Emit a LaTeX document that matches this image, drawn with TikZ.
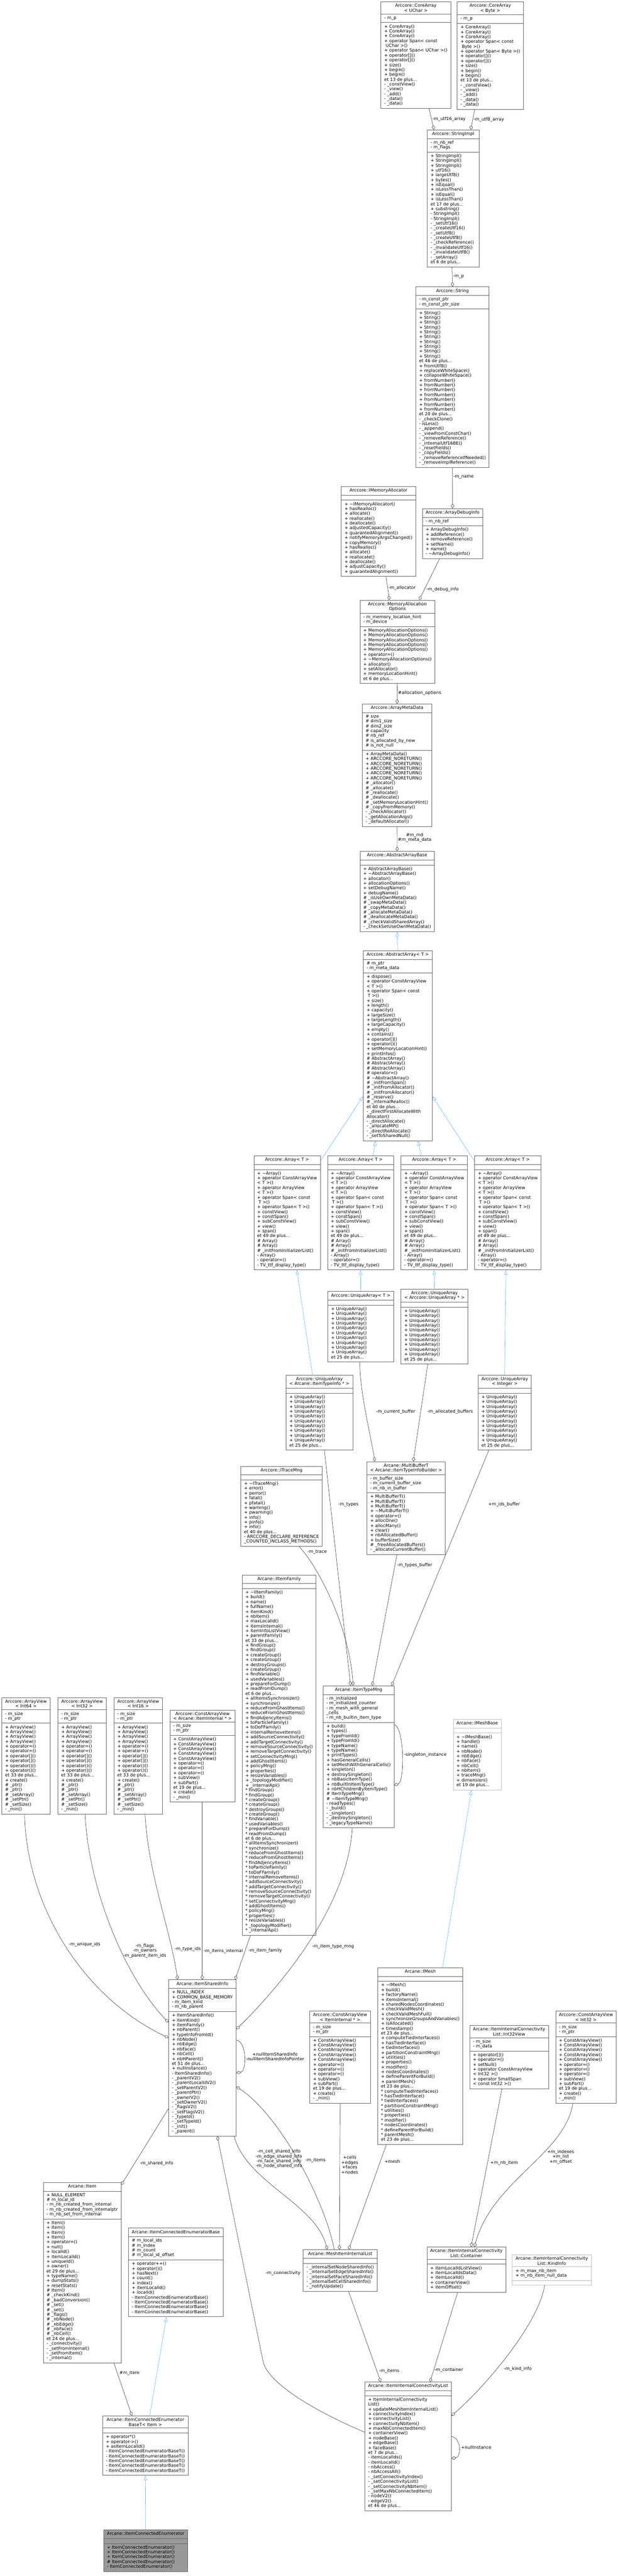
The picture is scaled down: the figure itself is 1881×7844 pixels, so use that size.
\documentclass[tikz,border=0pt]{standalone}
\usepackage{fontspec}
\setmainfont{DejaVu Sans}
\usetikzlibrary{shapes.multipart,arrows.meta,calc,positioning}

\definecolor{boxgray}{HTML}{666666}
\definecolor{lightgray}{HTML}{BFBFBF}
\definecolor{edgegray}{HTML}{404040}
\definecolor{inhblue}{HTML}{63B8FF}
\definecolor{curgray}{HTML}{999999}

\newcommand{\umlfont}{\fontsize{6.65}{7.35}\selectfont}
\newcommand{\tld}{\textasciitilde}
\newcommand{\mlist}[1]{\begin{tabular}{@{}l@{}}#1\end{tabular}}
\newcommand{\umlclass}[8][]{\node[umlbox, minimum width=#5*0.5pt, #1] (#2) at (#3,#4) {\strut#6\nodepart{two}\mlist{#7}\nodepart{three}\mlist{#8}};}
\newcommand{\arrmeth}{+ \tld{}Array()\\+ operator ConstArrayView\\< T >()\\+ operator ArrayView\\< T >()\\+ operator Span< const\\\ T >()\\+ operator Span< T >()\\+ constView()\\+ constSpan()\\+ subConstView()\\+ view()\\+ span()\\et 49 de plus...\\\# Array()\\\# Array()\\\# \_initFromInitializerList()\\- Array()\\- operator=()\\- TV\_ttf\_display\_type()}
\newcommand{\uameth}{+ UniqueArray()\\+ UniqueArray()\\+ UniqueArray()\\+ UniqueArray()\\+ UniqueArray()\\+ UniqueArray()\\+ UniqueArray()\\+ UniqueArray()\\+ UniqueArray()\\+ UniqueArray()\\et 25 de plus...}
\newcommand{\avmeth}{+ ArrayView()\\+ ArrayView()\\+ ArrayView()\\+ ArrayView()\\+ operator=()\\+ operator=()\\+ operator[]()\\+ operator[]()\\+ operator()()\\+ operator()()\\et 33 de plus...\\+ create()\\\# \_ptr()\\\# \_ptr()\\\# \_setArray()\\\# \_setPtr()\\\# \_setSize()\\- \_min()}
\newcommand{\cavmeth}{+ ConstArrayView()\\+ ConstArrayView()\\+ ConstArrayView()\\+ ConstArrayView()\\+ ConstArrayView()\\+ operator=()\\+ operator=()\\+ operator=()\\+ subView()\\+ subPart()\\et 19 de plus...\\+ create()\\- \_min()}

\begin{document}
\begin{tikzpicture}[x=0.5pt, y=-0.5pt,
	umlbox/.style={rectangle split, rectangle split parts=3, rectangle split part align={center,left,left},
		draw=boxgray, line width=0.6pt, fill=white, anchor=north west, align=center,
		inner xsep=5pt, inner ysep=2.6pt, font=\umlfont},
	light/.style={draw=lightgray},
	current/.style={fill=curgray},
	agg/.style={draw=edgegray, line width=0.5pt, -{Diamond[open, length=7pt, width=5pt]}},
	inh/.style={draw=inhblue, line width=0.5pt, -{Triangle[open, length=7pt, width=5pt]}},
	lbl/.style={font=\umlfont, inner sep=1pt, align=center}]
	\useasboundingbox (0,0) rectangle (1881,7844);
	\fill[white] (0,0) rectangle (1881,7844);

	\umlclass{caUChar}{1160}{5}{208}{Arccore::CoreArray\\< UChar >}{- m\_p}{+ CoreArray()\\+ CoreArray()\\+ CoreArray()\\+ operator Span< const\\\ UChar >()\\+ operator Span< UChar >()\\+ operator[]()\\+ operator[]()\\+ size()\\+ begin()\\+ begin()\\et 13 de plus...\\- \_constView()\\- \_view()\\- \_add()\\- \_data()\\- \_data()}
	\umlclass{caByte}{1392}{5}{196}{Arccore::CoreArray\\< Byte >}{- m\_p}{+ CoreArray()\\+ CoreArray()\\+ CoreArray()\\+ operator Span< const\\\ Byte >()\\+ operator Span< Byte >()\\+ operator[]()\\+ operator[]()\\+ size()\\+ begin()\\+ begin()\\et 13 de plus...\\- \_constView()\\- \_view()\\- \_add()\\- \_data()\\- \_data()}
	\umlclass{strImpl}{1301}{395}{158}{Arccore::StringImpl}{- m\_nb\_ref\\- m\_flags}{+ StringImpl()\\+ StringImpl()\\+ StringImpl()\\+ utf16()\\+ largeUtf8()\\+ bytes()\\+ isEqual()\\+ isLessThan()\\+ isEqual()\\+ isLessThan()\\et 17 de plus...\\+ substring()\\- StringImpl()\\- StringImpl()\\- \_setUtf16()\\- \_createUtf16()\\- \_setUtf8()\\- \_createUtf8()\\- \_checkReference()\\- \_invalidateUtf16()\\- \_invalidateUtf8()\\- \_setArray()\\et 6 de plus...}
	\umlclass{string}{1266}{873}{222}{Arccore::String}{- m\_const\_ptr\\- m\_const\_ptr\_size}{+ String()\\+ String()\\+ String()\\+ String()\\+ String()\\+ String()\\+ String()\\+ String()\\+ String()\\+ String()\\et 46 de plus...\\+ fromUtf8()\\+ replaceWhiteSpace()\\+ collapseWhiteSpace()\\+ fromNumber()\\+ fromNumber()\\+ fromNumber()\\+ fromNumber()\\+ fromNumber()\\+ fromNumber()\\+ fromNumber()\\et 20 de plus...\\- \_checkClone()\\- isLess()\\- \_append()\\- \_viewFromConstChar()\\- \_removeReference()\\- \_internalUtf16BE()\\- \_resetFields()\\- \_copyFields()\\- \_removeReferenceIfNeeded()\\- \_removeImplReference()}
	\umlclass{imem}{1039}{1481}{224}{Arccore::IMemoryAllocator}{}{+ \tld{}IMemoryAllocator()\\+ hasRealloc()\\+ allocate()\\+ reallocate()\\+ deallocate()\\+ adjustedCapacity()\\+ guarantedAlignment()\\+ notifyMemoryArgsChanged()\\+ copyMemory()\\+ hasRealloc()\\+ allocate()\\+ reallocate()\\+ deallocate()\\+ adjustCapacity()\\+ guarantedAlignment()}
	\umlclass{adi}{1286}{1548}{182}{Arccore::ArrayDebugInfo}{- m\_nb\_ref}{+ ArrayDebugInfo()\\+ addReference()\\+ removeReference()\\+ setName()\\+ name()\\- \tld{}ArrayDebugInfo()}
	\umlclass{mao}{1096}{1827}{227}{Arccore::MemoryAllocation\\Options}{- m\_memory\_location\_hint\\- m\_device}{+ MemoryAllocationOptions()\\+ MemoryAllocationOptions()\\+ MemoryAllocationOptions()\\+ MemoryAllocationOptions()\\+ MemoryAllocationOptions()\\+ operator=()\\+ \tld{}MemoryAllocationOptions()\\+ allocator()\\+ setAllocator()\\+ memoryLocationHint()\\et 6 de plus...}
	\umlclass{amd}{1103}{2143}{212}{Arccore::ArrayMetaData}{\# size\\\# dim1\_size\\\# dim2\_size\\\# capacity\\\# nb\_ref\\\# is\_allocated\_by\_new\\\# is\_not\_null}{+ ArrayMetaData()\\+ ARCCORE\_NORETURN()\\+ ARCCORE\_NORETURN()\\+ ARCCORE\_NORETURN()\\+ ARCCORE\_NORETURN()\\+ ARCCORE\_NORETURN()\\\# \_allocator()\\\# \_allocate()\\\# \_reallocate()\\\# \_deallocate()\\\# \_setMemoryLocationHint()\\\# \_copyFromMemory()\\- \_checkAllocator()\\- \_getAllocationArgs()\\- \_defaultAllocator()}
	\umlclass{aab}{1096}{2592}{226}{Arccore::AbstractArrayBase}{}{+ AbstractArrayBase()\\+ \tld{}AbstractArrayBase()\\+ allocator()\\+ allocationOptions()\\+ setDebugName()\\+ debugName()\\\# \_isUseOwnMetaData()\\\# \_swapMetaData()\\\# \_copyMetaData()\\\# \_allocateMetaData()\\\# \_deallocateMetaData()\\\# \_checkValidSharedArray()\\- \_checkSetUseOwnMetaData()}
	\umlclass{aa}{1106}{2894}{206}{Arccore::AbstractArray< T >}{\# m\_ptr\\- m\_meta\_data}{+ dispose()\\+ operator ConstArrayView\\< T >()\\+ operator Span< const\\\ T >()\\+ size()\\+ length()\\+ capacity()\\+ largeSize()\\+ largeLength()\\+ largeCapacity()\\+ empty()\\+ contains()\\+ operator[]()\\+ operator()()\\+ setMemoryLocationHint()\\+ printInfos()\\\# AbstractArray()\\\# AbstractArray()\\\# AbstractArray()\\\# operator=()\\\# \tld{}AbstractArray()\\\# \_initFromSpan()\\\# \_initFromAllocator()\\\# \_initFromAllocator()\\\# \_reserve()\\\# \_internalRealloc()\\et 40 de plus...\\- \_directFirstAllocateWith\\Allocator()\\- \_directAllocate()\\- \_allocateMP()\\- \_directReAllocate()\\- \_setToSharedNull()}
	\umlclass{arr1}{773}{3519}{200}{Arccore::Array< T >}{}{\arrmeth}
	\umlclass{arr2}{997}{3519}{200}{Arccore::Array< T >}{}{\arrmeth}
	\umlclass{arr3}{1221}{3519}{200}{Arccore::Array< T >}{}{\arrmeth}
	\umlclass{arr4}{1445}{3519}{200}{Arccore::Array< T >}{}{\arrmeth}
	\umlclass{uaT}{998}{3932}{199}{Arccore::UniqueArray< T >}{}{\uameth}
	\umlclass{uaua}{1221}{3925}{201}{Arccore::UniqueArray\\< Arccore::UniqueArray * >}{}{\uameth}
	\umlclass{uaint}{1456}{4187}{159}{Arccore::UniqueArray\\< Integer >}{}{\uameth}
	\umlclass{uait}{871}{4187}{201}{Arccore::UniqueArray\\< Arcane::ItemTypeInfo * >}{}{\uameth}
	\umlclass{mbt}{1117}{4450}{237}{Arcane::MultiBufferT\\< Arcane::ItemTypeInfoBuilder >}{- m\_buffer\_size\\- m\_current\_buffer\_size\\- m\_nb\_in\_buffer}{+ MultiBufferT()\\+ MultiBufferT()\\+ MultiBufferT()\\+ \tld{}MultiBufferT()\\+ operator=()\\+ allocOne()\\+ allocMany()\\+ clear()\\+ nbAllocatedBuffer()\\+ bufferSize()\\\# \_freeAllocatedBuffers()\\- \_allocateCurrentBuffer()}
	\umlclass{itrace}{733}{4464}{246}{Arccore::ITraceMng}{}{+ \tld{}ITraceMng()\\+ error()\\+ perror()\\+ fatal()\\+ pfatal()\\+ warning()\\+ pwarning()\\+ info()\\+ pinfo()\\+ info()\\et 40 de plus...\\- ARCCORE\_DECLARE\_REFERENCE\\\_COUNTED\_INCLASS\_METHODS()}
	\umlclass{iif}{737}{4795}{223}{Arcane::IItemFamily}{}{+ \tld{}IItemFamily()\\+ build()\\+ name()\\+ fullName()\\+ itemKind()\\+ nbItem()\\+ maxLocalId()\\+ itemsInternal()\\+ itemInfoListView()\\+ parentFamily()\\et 33 de plus...\\+ findGroup()\\+ findGroup()\\+ createGroup()\\+ createGroup()\\+ destroyGroups()\\+ createGroup()\\+ findVariable()\\+ usedVariables()\\+ prepareForDump()\\+ readFromDump()\\et 6 de plus...\\+ allItemsSynchronizer()\\+ synchronize()\\+ reduceFromGhostItems()\\+ reduceFromGhostItems()\\+ findAdjencyItems()\\+ toParticleFamily()\\+ toDoFFamily()\\+ internalRemoveItems()\\+ addSourceConnectivity()\\+ addTargetConnectivity()\\+ removeSourceConnectivity()\\+ removeTargetConnectivity()\\+ setConnectivityMng()\\+ addGhostItems()\\+ policyMng()\\+ properties()\\+ resizeVariables()\\+ \_topologyModifier()\\+ \_internalApi()\\{*} findGroup()\\{*} findGroup()\\{*} createGroup()\\{*} createGroup()\\{*} destroyGroups()\\{*} createGroup()\\{*} findVariable()\\{*} usedVariables()\\{*} prepareForDump()\\{*} readFromDump()\\et 6 de plus...\\{*} allItemsSynchronizer()\\{*} synchronize()\\{*} reduceFromGhostItems()\\{*} reduceFromGhostItems()\\{*} findAdjencyItems()\\{*} toParticleFamily()\\{*} toDoFFamily()\\{*} internalRemoveItems()\\{*} addSourceConnectivity()\\{*} addTargetConnectivity()\\{*} removeSourceConnectivity()\\{*} removeTargetConnectivity()\\{*} setConnectivityMng()\\{*} addGhostItems()\\{*} policyMng()\\{*} properties()\\{*} resizeVariables()\\{*} \_topologyModifier()\\{*} \_internalApi()}
	\umlclass{av64}{5}{5169}{147}{Arccore::ArrayView\\< Int64 >}{- m\_size\\- m\_ptr}{\avmeth}
	\umlclass{av32}{176}{5169}{147}{Arccore::ArrayView\\< Int32 >}{- m\_size\\- m\_ptr}{\avmeth}
	\umlclass{av16}{347}{5169}{146}{Arccore::ArrayView\\< Int16 >}{- m\_size\\- m\_ptr}{\avmeth}
	\umlclass{cav}{517}{5206}{197}{Arccore::ConstArrayView\\< Arcane::ItemInternal * >}{- m\_size\\- m\_ptr}{\cavmeth}
	\umlclass{itm}{984}{5133}{215}{Arcane::ItemTypeMng}{- m\_initialized\\- m\_initialized\_counter\\- m\_mesh\_with\_general\\\_cells\\- m\_nb\_builtin\_item\_type}{+ build()\\+ types()\\+ typeFromId()\\+ typeFromId()\\+ typeName()\\+ typeName()\\+ printTypes()\\+ hasGeneralCells()\\+ setMeshWithGeneralCells()\\+ singleton()\\+ destroySingleton()\\+ nbBasicItemType()\\+ nbBuiltInItemType()\\+ nbHChildrenByItemType()\\\# ItemTypeMng()\\\# \tld{}ItemTypeMng()\\- readTypes()\\- \_build()\\- \_singleton()\\- \_destroySingleton()\\- \_legacyTypeName()}
	\umlclass[light]{imb}{1380}{5235}{146}{Arcane::IMeshBase}{}{+ \tld{}IMeshBase()\\+ handle()\\+ name()\\+ nbNode()\\+ nbEdge()\\+ nbFace()\\+ nbCell()\\+ nbItem()\\+ traceMng()\\+ dimension()\\et 19 de plus...}
	\umlclass{imesh}{1150}{5991}{256}{Arcane::IMesh}{}{+ \tld{}IMesh()\\+ build()\\+ factoryName()\\+ itemsInternal()\\+ sharedNodesCoordinates()\\+ checkValidMesh()\\+ checkValidMeshFull()\\+ synchronizeGroupsAndVariables()\\+ isAllocated()\\+ timestamp()\\et 23 de plus...\\+ computeTiedInterfaces()\\+ hasTiedInterface()\\+ tiedInterfaces()\\+ partitionConstraintMng()\\+ utilities()\\+ properties()\\+ modifier()\\+ nodesCoordinates()\\+ defineParentForBuild()\\+ parentMesh()\\et 23 de plus...\\{*} computeTiedInterfaces()\\{*} hasTiedInterface()\\{*} tiedInterfaces()\\{*} partitionConstraintMng()\\{*} utilities()\\{*} properties()\\{*} modifier()\\{*} nodesCoordinates()\\{*} defineParentForBuild()\\{*} parentMesh()\\et 23 de plus...}
	\umlclass{isi}{513}{6028}{206}{Arcane::ItemSharedInfo}{+ NULL\_INDEX\\+ COMMON\_BASE\_MEMORY\\- m\_item\_kind\\- m\_nb\_parent}{+ ItemSharedInfo()\\+ itemKind()\\+ itemFamily()\\+ nbParent()\\+ typeInfoFromId()\\+ nbNode()\\+ nbEdge()\\+ nbFace()\\+ nbCell()\\+ nbHParent()\\et 51 de plus...\\+ nullInstance()\\- ItemSharedInfo()\\- \_parentV2()\\- \_parentLocalIdV2()\\- \_setParentV2()\\- \_parentPtr()\\- \_ownerV2()\\- \_setOwnerV2()\\- \_flagsV2()\\- \_setFlagsV2()\\- \_typeId()\\- \_setTypeId()\\- \_init()\\- \_parent()}
	\umlclass{item}{131}{6645}{236}{Arcane::Item}{+ NULL\_ELEMENT\\\# m\_local\_id\\- m\_nb\_created\_from\_internal\\- m\_nb\_created\_from\_internalptr\\- m\_nb\_set\_from\_internal}{+ Item()\\+ Item()\\+ Item()\\+ Item()\\+ operator=()\\+ null()\\+ localId()\\+ itemLocalId()\\+ uniqueId()\\+ owner()\\et 29 de plus...\\+ typeName()\\+ dumpStats()\\+ resetStats()\\\# Item()\\\# \_checkKind()\\\# \_badConversion()\\\# \_set()\\\# \_set()\\\# \_flags()\\\# \_nbNode()\\\# \_nbEdge()\\\# \_nbFace()\\\# \_nbCell()\\et 24 de plus...\\- \_connectivity()\\- \_setFromInternal()\\- \_setFromItem()\\- \_internal()}
	\umlclass{iceb}{391}{6784}{282}{Arcane::ItemConnectedEnumeratorBase}{\# m\_local\_ids\\\# m\_index\\\# m\_count\\\# m\_local\_id\_offset}{+ operator++()\\+ operator()()\\+ hasNext()\\+ count()\\+ index()\\+ itemLocalId()\\+ localId()\\- ItemConnectedEnumeratorBase()\\- ItemConnectedEnumeratorBase()\\- ItemConnectedEnumeratorBase()\\- ItemConnectedEnumeratorBase()}
	\umlclass{icebt}{312}{7356}{256}{Arcane::ItemConnectedEnumerator\\BaseT< Item >}{}{+ operator*()\\+ operator->()\\+ asItemLocalId()\\- ItemConnectedEnumeratorBaseT()\\- ItemConnectedEnumeratorBaseT()\\- ItemConnectedEnumeratorBaseT()\\- ItemConnectedEnumeratorBaseT()\\- ItemConnectedEnumeratorBaseT()}
	\umlclass[current]{ice}{315}{7703}{250}{Arcane::ItemConnectedEnumerator}{}{+ ItemConnectedEnumerator()\\+ ItemConnectedEnumerator()\\+ ItemConnectedEnumerator()\\\# ItemConnectedEnumerator()\\- ItemConnectedEnumerator()}
	\umlclass{cav2}{943}{6123}{183}{Arccore::ConstArrayView\\< ItemInternal * >}{- m\_size\\- m\_ptr}{\cavmeth}
	\umlclass{i32v}{1430}{6167}{237}{Arcane::ItemInternalConnectivity\\List::Int32View}{- m\_size\\- m\_data}{+ operator[]()\\+ operator=()\\+ setNull()\\+ operator ConstArrayView\\< Int32 >()\\+ operator SmallSpan\\< const Int32 >()}
	\umlclass{cav32}{1692}{6123}{183}{Arccore::ConstArrayView\\< Int32 >}{- m\_size\\- m\_ptr}{\cavmeth}
	\umlclass{miil}{923}{6850}{223}{Arcane::MeshItemInternalList}{}{- \_internalSetNodeSharedInfo()\\- \_internalSetEdgeSharedInfo()\\- \_internalSetFaceSharedInfo()\\- \_internalSetCellSharedInfo()\\- \_notifyUpdate()}
	\umlclass{cont}{1300}{6842}{237}{Arcane::ItemInternalConnectivity\\List::Container}{}{+ itemLocalIdListView()\\+ itemLocalIdsData()\\+ itemLocalId()\\+ containerView()\\+ itemOffset()}
	\umlclass[light]{ki}{1560}{6865}{238}{Arcane::ItemInternalConnectivity\\List::KindInfo}{+ m\_max\_nb\_item\\+ m\_nb\_item\_null\_data}{}
	\umlclass{iicl}{1111}{7253}{260}{Arcane::ItemInternalConnectivityList}{}{+ ItemInternalConnectivity\\List()\\+ updateMeshItemInternalList()\\+ connectivityIndex()\\+ connectivityList()\\+ connectivityNbItem()\\+ maxNbConnectedItem()\\+ containerView()\\+ nodeBase()\\+ edgeBase()\\+ faceBase()\\et 7 de plus...\\- itemLocalIds()\\- itemLocalId()\\- nbAccess()\\- nbAccessAll()\\- \_setConnectivityIndex()\\- \_setConnectivityList()\\- \_setConnectivityNbItem()\\- \_setMaxNbConnectedItem()\\- nodeV2()\\- edgeV2()\\et 46 de plus...}

	\draw[agg] ($(caUChar.south west)+(147,0)$) -- ($(strImpl.north west)+(21,0)$) node[lbl, pos=0.5, anchor=west] {-m\_utf16\_array};
	\draw[agg] ($(caByte.south west)+(54,0)$) -- ($(strImpl.north west)+(133,0)$) node[lbl, pos=0.5, anchor=west] {-m\_utf8\_array};
	\draw[agg] ($(strImpl.south west)+(76,0)$) -- (string.north) node[lbl, pos=0.5, anchor=west] {-m\_p};
	\draw[agg] (string.south) -- (adi.north) node[lbl, pos=0.24, anchor=west] {-m\_name};
	\draw[agg] ($(imem.south west)+(137,0)$) -- ($(mao.north west)+(90,0)$) node[lbl, pos=0.48, anchor=west] {-m\_allocator};
	\draw[agg] ($(adi.south west)+(53,0)$) -- ($(mao.north west)+(181,0)$) node[lbl, pos=0.75, anchor=west, xshift=2pt] {-m\_debug\_info};
	\draw[agg] (mao.south) -- (amd.north) node[lbl, pos=0.48, anchor=west] {\#allocation\_options};
	\draw[agg] (amd.south) -- (aab.north) node[lbl, pos=0.45, anchor=west] {\#m\_md\\\#m\_meta\_data};
	\draw[inh] (aa.north) -- (aab.south);
	\draw[inh] ($(arr1.north east)+(0,16)$) -- ($(aa.north west)+(0,444)$);
	\draw[inh] ($(arr2.north west)+(139,0)$) -- ($(aa.south west)+(38,0)$);
	\draw[inh] ($(arr3.north west)+(62,0)$) -- ($(aa.south west)+(167,0)$);
	\draw[inh] ($(arr4.north west)+(0,16)$) -- ($(aa.north east)+(0,444)$);
	\draw[inh] (uaT.north) -- (arr2.south);
	\draw[inh] (uaua.north) -- (arr3.south);
	\draw[inh] ($(uaint.north west)+(81,0)$) -- ($(arr4.south west)+(96,0)$);
	\draw[inh] ($(uait.north west)+(81,0)$) -- ($(arr1.south west)+(131,0)$);
	\draw[agg] ($(uaT.south west)+(98,0)$) .. controls +(0,90) and +(-15,-90) .. ($(mbt.north west)+(25,0)$) node[lbl, pos=0.5, anchor=west, xshift=15pt] {-m\_current\_buffer};
	\draw[agg] ($(uaua.south west)+(82,0)$) -- ($(mbt.north west)+(142,0)$) node[lbl, pos=0.49, anchor=west, xshift=9pt] {-m\_allocated\_buffers};
	\draw[agg] ($(uait.south west)+(117,0)$) -- ($(itm.north west)+(84,0)$) node[lbl, pos=0.23, anchor=west, xshift=11pt] {-m\_types};
	\draw[agg] ($(itrace.south west)+(178,0)$) .. controls +(45,45) and +(-15,-200) .. ($(itm.north west)+(92,0)$) node[lbl, pos=0.1, anchor=west, xshift=4pt] {-m\_trace};
	\draw[agg] ($(mbt.south west)+(92,0)$) -- ($(itm.north west)+(150,0)$) node[lbl, pos=0.08, anchor=west, xshift=2pt] {-m\_types\_buffer};
	\draw[agg] ($(uaint.south west)+(33,0)$) -- ($(itm.north west)+(209,0)$) node[lbl, pos=0.23, anchor=west, xshift=32pt] {+m\_ids\_buffer};
	\draw[agg] ($(itm.north east)+(0,118)$) .. controls +(32,10) and +(32,-10) .. ($(itm.north east)+(0,303)$) node[lbl, pos=0.5, anchor=west, xshift=2pt] {-singleton\_instance};
	\draw[agg] ($(itm.south west)+(89,0)$) .. controls +(-13,240) and +(131,-129) .. ($(isi.north east)+(0,151)$) node[lbl, pos=0.52, anchor=west, xshift=8pt] {-m\_item\_type\_mng};
	\draw[inh] ($(imesh.north west)+(198,0)$) -- ($(imb.south west)+(56,0)$);
	\draw[agg] ($(av64.south west)+(70,0)$) .. controls +(5,276) and +(-263,-125) .. ($(isi.north west)+(0,177)$) node[lbl, pos=0.5, anchor=west, xshift=5pt] {-m\_unique\_ids};
	\draw[agg] ($(av32.south west)+(83,0)$) .. controls +(11,226) and +(-133,-138) .. ($(isi.north west)+(0,130)$) node[lbl, pos=0.6, anchor=west, xshift=2pt] {-m\_flags\\-m\_owners\\-m\_parent\_item\_ids};
	\draw[agg] ($(av16.south west)+(95,0)$) .. controls +(8,176) and +(-21,-148) .. ($(isi.north west)+(28,0)$) node[lbl, pos=0.8, anchor=west, xshift=3pt] {-m\_type\_ids};
	\draw[agg] ($(cav.south west)+(99,0)$) -- ($(isi.north west)+(103,0)$) node[lbl, pos=0.84, anchor=west, xshift=1pt] {-m\_items\_internal};
	\draw[agg] ($(iif.south west)+(26,0)$) -- ($(isi.north east)+(-4,0)$) node[lbl, pos=0.35, anchor=west, xshift=4pt] {-m\_item\_family};
	\draw[agg] ($(miil.north west)+(95,0)$) .. controls +(-28,-150) and +(131,86) .. ($(isi.north east)+(0,326)$) node[lbl, pos=0.5, anchor=west, xshift=10pt] {-m\_items};
	\draw[agg] ($(isi.north east)+(0,184)$) .. controls +(32,5) and +(32,-5) .. ($(isi.north east)+(0,284)$) node[lbl, pos=0.5, anchor=west, xshift=1pt] {+nullItemSharedInfo\\-nullItemSharedInfoPointer};
	\draw[agg] ($(iicl.north west)+(0,153)$) .. controls +(-120,-50) and +(15,75) .. ($(iicl.north west)+(-310,-64)$) -- ($(isi.south west)+(149,0)$) node[lbl, pos=0.39, anchor=west, xshift=30pt] {-m\_connectivity};
	\draw[agg] ($(isi.north west)+(0,393)$) -- ($(item.north east)+(0,8)$) node[lbl, pos=0.72, anchor=west, xshift=7pt] {-m\_shared\_info};
	\draw[agg] ($(isi.south east)+(-7,0)$) .. controls +(38,141) and +(-37,-141) .. ($(miil.north west)+(74,0)$) node[lbl, pos=0.27, anchor=south west, xshift=1pt] {-m\_cell\_shared\_info\\-m\_edge\_shared\_info\\-m\_face\_shared\_info\\-m\_node\_shared\_info};
	\draw[agg] (cav2.south) -- ($(miil.north west)+(111,0)$) node[lbl, pos=0.42, anchor=west, xshift=1pt] {+cells\\+edges\\+faces\\+nodes};
	\draw[agg] ($(imesh.south west)+(27,0)$) -- ($(miil.north west)+(139,0)$) node[lbl, pos=0.16, anchor=west, xshift=5pt] {+mesh};
	\draw[agg] ($(miil.south west)+(139,0)$) -- ($(iicl.north west)+(49,0)$) node[lbl, pos=0.88, anchor=west, xshift=2pt] {-m\_items};
	\draw[agg] ($(cont.south west)+(94,0)$) -- ($(iicl.north west)+(199,0)$) node[lbl, pos=0.87, anchor=west] {-m\_container};
	\draw[agg] ($(ki.south west)+(99,0)$) .. controls +(-19,120) and +(99,-86) .. ($(iicl.north east)+(0,103)$) node[lbl, pos=0.6, anchor=west, xshift=10pt] {-m\_kind\_info};
	\draw[agg] ($(iicl.north east)+(0,166)$) .. controls +(30,5) and +(30,-5) .. ($(iicl.north east)+(0,233)$) node[lbl, pos=0.5, anchor=west, xshift=2pt] {+nullInstance};
	\draw[agg] ($(i32v.south west)+(99,0)$) -- ($(cont.north west)+(135,0)$) node[lbl, pos=0.47, anchor=west, xshift=3pt] {+m\_nb\_item};
	\draw[agg] ($(cav32.south west)+(53,0)$) .. controls +(-25,156) and +(55,-202) .. ($(cont.north west)+(145,0)$) node[lbl, pos=0.4, anchor=west, xshift=10pt] {+m\_indexes\\+m\_list\\+m\_offset};
	\draw[agg] ($(item.south west)+(216,0)$) -- ($(icebt.north west)+(90,0)$) node[lbl, pos=0.19, anchor=west, xshift=2pt] {\#m\_item};
	\draw[inh] ($(icebt.north west)+(144,0)$) -- ($(iceb.south west)+(116,0)$);
	\draw[inh] (ice.north) -- (icebt.south);
\end{tikzpicture}
\end{document}
